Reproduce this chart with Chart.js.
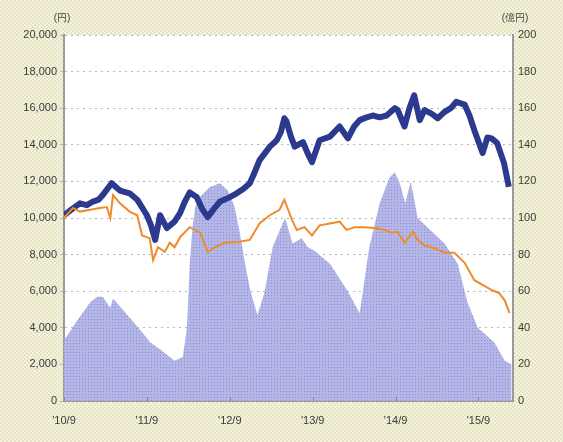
<!DOCTYPE html>
<html>
<head>
<meta charset="utf-8">
<script src="https://cdn.jsdelivr.net/npm/chart.js@4/dist/chart.umd.min.js"></script>
<style>
html,body{margin:0;padding:0;}
body{width:563px;height:442px;overflow:hidden;
background-color:#f7f5d2;
background-image:conic-gradient(#e4e2cf 25%, transparent 0 50%, #e4e2cf 0 75%, transparent 0);
background-size:4px 4px;}
canvas{display:block;}
</style>
</head>
<body>
<canvas id="c" width="563" height="442"></canvas>
<script>
// x positions are months since Sep 2010
const xTickMonths = [0, 12, 24, 36, 48, 60];
const xTickLabels = ["'10/9", "'11/9", "'12/9", "'13/9", "'14/9", "'15/9"];
const leftUnit = "(円)";
const rightUnit = "(億円)";

const blueMonths = [0,1.2,2.3,3.3,4.2,5.0,5.6,6.9,7.5,8.1,9.5,10.6,12.0,12.6,13.2,13.9,14.9,16.0,16.8,17.5,18.2,19.2,20.0,20.8,21.7,22.6,23.8,25.0,26.0,26.9,27.6,28.3,29.8,30.8,31.4,31.9,32.2,32.8,33.4,34.6,35.2,35.9,37.0,38.5,39.9,41.1,42.0,42.8,43.8,44.7,45.7,46.7,47.9,48.3,49.3,50.0,50.7,51.5,52.2,53.2,54.1,55.1,56.0,56.8,58.0,58.7,59.4,60.6,61.3,61.9,62.7,63.7,64.4];
const blueValues = [10150,10500,10800,10700,10900,11000,11250,11900,11700,11500,11350,11000,10150,9600,8800,10150,9450,9800,10270,10900,11400,11150,10500,10050,10500,10900,11100,11350,11600,11900,12500,13150,13900,14250,14700,15450,15300,14500,13900,14150,13600,13050,14250,14450,15000,14350,15000,15350,15500,15600,15500,15600,16000,15900,15000,16000,16700,15350,15900,15700,15450,15800,16000,16350,16200,15600,14800,13550,14400,14350,14100,13000,11700];

const orangeMonths = [0,1.3,2.3,3.8,5.2,6.2,6.7,7.1,8.1,9.5,10.6,11.3,12.4,12.9,13.6,14.6,15.3,16.0,16.8,18.2,19.7,20.8,21.8,23.3,25.4,26.9,28.3,29.8,31.2,31.9,33.0,33.7,34.8,35.9,37.0,38.5,39.9,40.9,42.1,43.5,45.0,46.4,47.4,48.3,49.3,50.5,51.2,52.2,53.6,55.1,56.5,58.0,59.4,60.6,62.0,63.0,63.8,64.5];
const orangeValues = [10000,10550,10350,10450,10550,10600,10000,11250,10800,10350,10150,9050,8900,7700,8400,8150,8650,8400,8950,9500,9200,8150,8400,8650,8700,8800,9700,10150,10450,11000,9900,9350,9500,9050,9600,9700,9800,9350,9500,9500,9450,9350,9200,9250,8650,9250,8800,8500,8350,8100,8100,7550,6600,6350,6050,5900,5500,4800];

const areaMonths = [0,1.9,3.8,4.8,5.6,6.7,7.1,8.5,11.0,12.5,14.0,16.0,17.2,17.8,18.2,18.6,19.0,19.8,21.1,22.6,23.7,24.7,25.4,26.2,27.0,28.0,29.0,30.2,31.2,32.0,33.1,34.4,35.3,36.3,38.5,40.9,42.8,44.2,45.7,47.1,47.9,48.6,49.4,50.2,51.2,52.6,55.1,57.0,58.4,59.9,62.3,63.8,64.8];
const areaValues = [33,44,54,57,57,51,56,50,39,32,28,22,24,40,75,95,106,112,117,119,115,106,93,75,60,47,59,84,93,100,86,89,84,82,75,61,48,84,108,122,125,119,108,120,100,95,86,75,54,40,32,22,20];

function pts(xs, ys){ return xs.map((m,i)=>({x:m, y:ys[i]})); }

function makePattern(){
  const p = document.createElement('canvas');
  p.width = 3; p.height = 3;
  const g = p.getContext('2d');
  g.fillStyle = '#b2b7e8'; g.fillRect(0,0,3,3);
  g.fillStyle = '#948bd2'; g.fillRect(1,1,1,1);
  return g.createPattern(p, 'repeat');
}

const plotBg = {
  id:'plotBg',
  beforeDraw(chart){
    const {ctx, chartArea:a} = chart;
    ctx.save(); ctx.fillStyle = '#ffffff';
    ctx.fillRect(a.left, a.top, a.right-a.left, a.bottom-a.top);
    ctx.restore();
  },
  afterDraw(chart){
    const {ctx, chartArea:a, scales} = chart;
    ctx.save();
    ctx.fillStyle = '#444';
    ctx.font = '10px "Liberation Sans", sans-serif';
    ctx.textAlign = 'center'; ctx.textBaseline = 'middle';
    ctx.fillText(leftUnit, a.left-2, 18);
    ctx.fillText(rightUnit, a.right+2, 18);
    // small inward tick marks on x axis
    ctx.strokeStyle = '#888'; ctx.lineWidth = 1;
    xTickMonths.forEach(v=>{
      const x = Math.round(scales.x.getPixelForValue(v))+0.5;
      ctx.beginPath(); ctx.moveTo(x, a.bottom); ctx.lineTo(x, a.bottom-4); ctx.stroke();
    });
    ctx.restore();
  }
};

new Chart(document.getElementById('c'), {
  type:'line',
  data:{
    datasets:[
      {label:'orange', data:pts(orangeMonths, orangeValues), yAxisID:'y', borderColor:'#f08a2c', borderWidth:2, pointRadius:0, tension:0, fill:false},
      {label:'blue', data:pts(blueMonths, blueValues), yAxisID:'y', borderColor:'#2b3a8e', borderWidth:6, pointRadius:0, tension:0, fill:false, borderJoinStyle:'round'},
      {label:'area', data:pts(areaMonths, areaValues), yAxisID:'y1', borderColor:'rgba(0,0,0,0)', borderWidth:0, backgroundColor:makePattern(), pointRadius:0, tension:0, fill:'origin'}
    ]
  },
  options:{
    responsive:false, animation:false,
    layout:{padding:{top:35, left:0, right:0, bottom:0}},
    plugins:{legend:{display:false}, tooltip:{enabled:false}},
    scales:{
      x:{type:'linear', min:0, max:65,
        afterBuildTicks(s){ s.ticks = xTickMonths.map(v=>({value:v})); },
        afterFit(s){ s.height = 41; },
        grid:{display:false},
        border:{display:true, color:'#9a9a9a', width:2},
        ticks:{padding:5, color:'#3a3a3a', font:{family:'"Liberation Sans", sans-serif', size:11},
          callback(v){ const i = xTickMonths.indexOf(v); return i>=0 ? xTickLabels[i] : ''; }}
      },
      y:{position:'left', min:0, max:20000,
        afterFit(s){ s.width = 64; },
        ticks:{stepSize:2000, padding:3, color:'#3a3a3a', font:{family:'"Liberation Sans", sans-serif', size:11},
          callback(v){ return v.toLocaleString('en-US'); }},
        grid:{color:'#b4b4b4', lineWidth:1, tickLength:4},
        border:{display:true, color:'#9a9a9a', width:2, dash:[2,4]}
      },
      y1:{position:'right', min:0, max:200,
        afterFit(s){ s.width = 50; },
        ticks:{stepSize:20, padding:5, color:'#3a3a3a', font:{family:'"Liberation Sans", sans-serif', size:11}},
        grid:{drawOnChartArea:false, drawTicks:false},
        border:{display:true, color:'#9a9a9a', width:2}
      }
    }
  },
  plugins:[plotBg]
});
</script>
</body>
</html>
